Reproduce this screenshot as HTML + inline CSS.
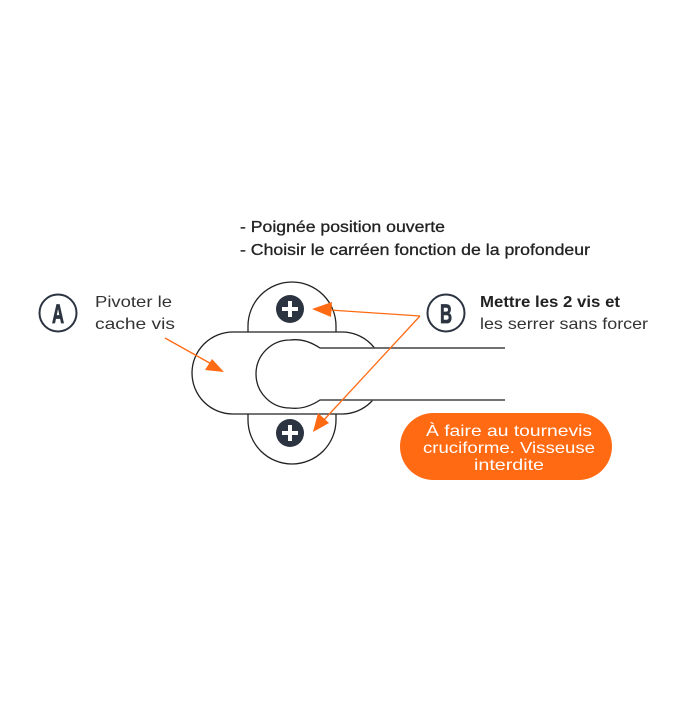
<!DOCTYPE html>
<html><head><meta charset="utf-8"><style>
body{margin:0;background:#fff;}
svg text{font-family:"Liberation Sans",sans-serif;}
</style></head><body>
<svg width="700" height="700" viewBox="0 0 700 700" xmlns="http://www.w3.org/2000/svg">
<rect width="700" height="700" fill="#fff"/>
<text x="240" y="232" font-size="16" fill="#222" stroke="#222" stroke-width="0.3" textLength="205" lengthAdjust="spacingAndGlyphs">- Poignée position ouverte</text>
<text x="240" y="255" font-size="16" fill="#222" stroke="#222" stroke-width="0.3" textLength="350" lengthAdjust="spacingAndGlyphs">- Choisir le carréen fonction de la profondeur</text>
<!-- A -->
<circle cx="58" cy="313" r="18.5" fill="none" stroke="#2b3440" stroke-width="2"/>
<text x="58" y="323" font-size="27" font-weight="bold" text-anchor="middle" fill="#2b3440" stroke="#2b3440" stroke-width="0.8" transform="translate(58 0) scale(0.62 1) translate(-58 0)">A</text>
<text x="95" y="307" font-size="16" fill="#333" textLength="77" lengthAdjust="spacingAndGlyphs">Pivoter le</text>
<text x="95" y="329" font-size="16" fill="#333" textLength="80" lengthAdjust="spacingAndGlyphs">cache vis</text>
<!-- B -->
<circle cx="446" cy="313" r="18.5" fill="none" stroke="#2b3440" stroke-width="2"/>
<text x="446" y="323" font-size="27" font-weight="bold" text-anchor="middle" fill="#2b3440" stroke="#2b3440" stroke-width="0.8" transform="translate(446 0) scale(0.62 1) translate(-446 0)">B</text>
<text x="480" y="307" font-size="15.5" font-weight="bold" fill="#222" textLength="140" lengthAdjust="spacingAndGlyphs">Mettre les 2 vis et</text>
<text x="480" y="329" font-size="16" fill="#333" textLength="168" lengthAdjust="spacingAndGlyphs">les serrer sans forcer</text>
<!-- plates -->
<g fill="#fff" stroke="#222" stroke-width="1.3">
<path d="M248 333 V326 A44 44 0 0 1 336 326 V333"/>
<path d="M248 413 V420 A44 44 0 0 0 336 420 V413"/>
<path d="M233 332 H342 A41 41 0 0 1 342 414 H233 A41 41 0 0 1 233 332 Z"/>
<path d="M505 348 H320 Q305 338 290 340 A34 34 0 0 0 290 408 Q305 410 320 400 H505" fill="#fff"/>
</g>
<line x1="320" y1="348" x2="505" y2="348" stroke="#555" stroke-width="1.5"/>
<line x1="320" y1="400" x2="505" y2="400" stroke="#555" stroke-width="1.5"/>
<!-- screws -->
<g>
<circle cx="290" cy="309" r="14" fill="#2b3440"/>
<rect x="282" y="307" width="16" height="4" fill="#fff"/><rect x="288" y="301" width="4" height="16" fill="#fff"/>
<circle cx="290" cy="433" r="14" fill="#2b3440"/>
<rect x="282" y="431" width="16" height="4" fill="#fff"/><rect x="288" y="425" width="4" height="16" fill="#fff"/>
</g>
<!-- arrows -->
<g stroke="#ff6a13" stroke-width="1.3" fill="#ff6a13">
<line x1="165" y1="338" x2="215" y2="366"/>
<polygon points="224,372 205,370 212,359" stroke="none"/>
<line x1="420" y1="316" x2="330" y2="310"/>
<polygon points="312,309 332,302 331,317" stroke="none"/>
<line x1="420" y1="316" x2="322" y2="422"/>
<polygon points="313,432 318,413 329,423" stroke="none"/>
</g>
<!-- orange box -->
<rect x="400" y="413" width="212" height="67" rx="33.5" fill="#ff6a13"/>
<g font-size="16" fill="#fff" text-anchor="middle">
<text x="509" y="436" textLength="166" lengthAdjust="spacingAndGlyphs">À faire au tournevis</text>
<text x="509" y="453" textLength="172" lengthAdjust="spacingAndGlyphs">cruciforme. Visseuse</text>
<text x="509" y="470" textLength="70" lengthAdjust="spacingAndGlyphs">interdite</text>
</g>
</svg>
</body></html>
